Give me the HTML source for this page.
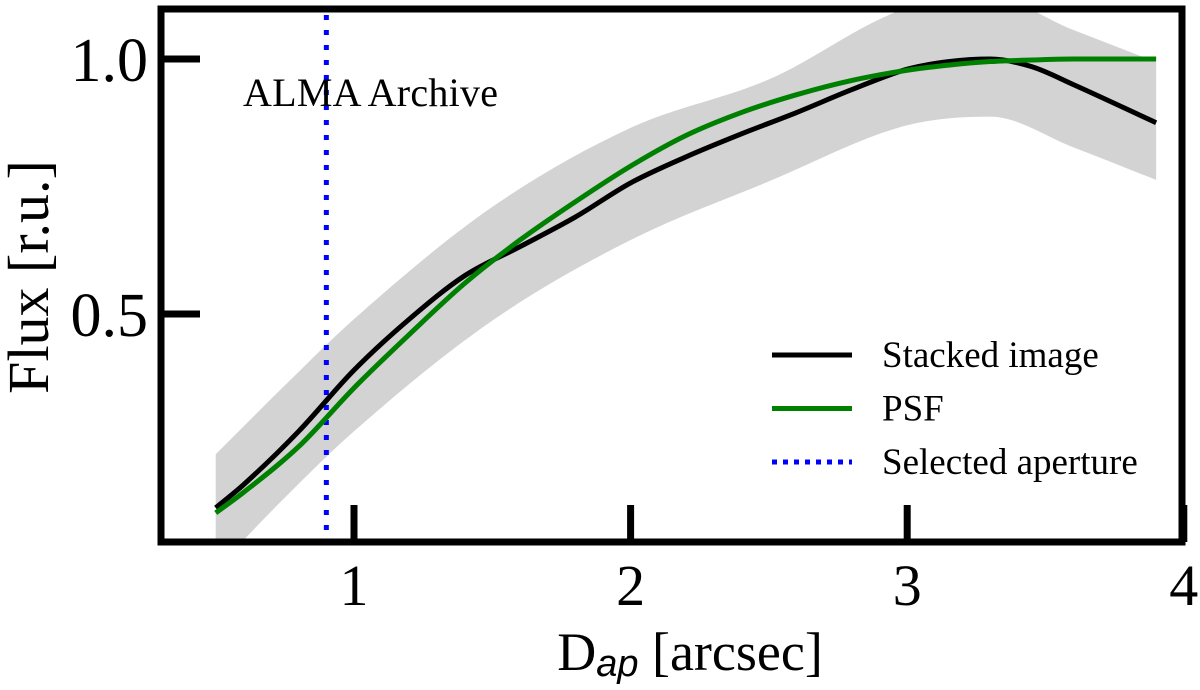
<!DOCTYPE html>
<html><head><meta charset="utf-8"><style>
body{margin:0;background:#fff;}
svg{display:block;font-family:"Liberation Serif",serif;}
</style></head><body>
<svg id="chart" width="1200" height="690">
<defs><clipPath id="clip"><rect x="161" y="9" width="1021" height="533"/></clipPath></defs>
<g id="plot" clip-path="url(#clip)"></g>
<g id="axes"></g>
</svg>
<script>
const xs=[0.5,0.6,0.8,1.0,1.2,1.4,1.6,1.8,2.0,2.2,2.4,2.6,2.8,3.0,3.15,3.3,3.45,3.6,3.9];
const stacked=[0.12,0.165,0.27,0.39,0.49,0.575,0.632,0.69,0.757,0.808,0.853,0.895,0.94,0.98,0.995,1.0,0.985,0.95,0.875];
const psf=[0.11,0.15,0.24,0.355,0.46,0.56,0.645,0.72,0.79,0.85,0.895,0.93,0.958,0.978,0.988,0.995,0.998,1.0,1.0];
const bandX=[0.5,0.75,1.0,1.5,2.0,2.5,3.0,3.3,3.6,3.9];
const bandHi=[0.225,0.36,0.49,0.71,0.865,0.96,1.10,1.12,1.057,0.994];
const bandLo=[0.0,0.14,0.27,0.487,0.645,0.76,0.87,0.887,0.827,0.763];
const apertureX=0.9;
const xTicks=[1,2,3,4];
const yTicks=[0.5,1.0];
const yTickLabels=["0.5","1.0"];
const legendLabels=["Stacked image","PSF","Selected aperture"];

const X=v=>77.4+276.6*v;
const Y=v=>59+(1-v)*510;
const NS="http://www.w3.org/2000/svg";
function mk(tag,attrs,parent,text){const e=document.createElementNS(NS,tag);for(const k in attrs)e.setAttribute(k,attrs[k]);if(text!==undefined)e.textContent=text;parent.appendChild(e);return e;}
// monotone-x cubic (no overshoot)
function smooth(pts,start){
 const n=pts.length,m=[];
 const dl=[];for(let i=0;i<n-1;i++)dl.push((pts[i+1][1]-pts[i][1])/(pts[i+1][0]-pts[i][0]));
 for(let i=0;i<n;i++){
  if(i===0)m.push(dl[0]);else if(i===n-1)m.push(dl[n-2]);
  else m.push(dl[i-1]*dl[i]<=0?0:(dl[i-1]+dl[i])/2);
 }
 let d=(start?'M':'L')+pts[0][0]+','+pts[0][1];
 for(let i=0;i<n-1;i++){
  const h=(pts[i+1][0]-pts[i][0])/3;
  d+='C'+(pts[i][0]+h)+','+(pts[i][1]+m[i]*h)+' '+(pts[i+1][0]-h)+','+(pts[i+1][1]-m[i+1]*h)+' '+pts[i+1][0]+','+pts[i+1][1];
 }
 return d;
}
function lineD(pts){return pts.map((p,i)=>(i?'L':'M')+p[0]+','+p[1]).join('');}
const plot=document.getElementById('plot'),axes=document.getElementById('axes');
const hiPts=bandX.map((x,i)=>[X(x),Y(bandHi[i])]);
const loPts=bandX.map((x,i)=>[X(x),Y(bandLo[i])]);
let loD=smooth(loPts,true).replace(/^M/,'');
// build band: upper forward, lower backward (reverse by re-smoothing reversed points)
const loRev=loPts.slice().reverse().map(p=>[-p[0],p[1]]);
const loRevD=smooth(loRev,false).replace(/(-?\d+\.?\d*),(-?\d+\.?\d*)/g,(s,a,b)=>(-parseFloat(a))+','+b);
const band=mk('path',{d:smooth(hiPts,true)+loRevD+'Z',fill:'#d3d3d3'},plot);


const ap=mk('line',{x1:X(apertureX),x2:X(apertureX),y1:0,y2:545,stroke:'#0000ff','stroke-width':5,'stroke-dasharray':'5 10'},plot);


const l1=mk('path',{d:smooth(xs.map((x,i)=>[X(x),Y(stacked[i])]),true),fill:'none',stroke:'#000','stroke-width':5},plot);


const l2=mk('path',{d:smooth(xs.map((x,i)=>[X(x),Y(psf[i])]),true),fill:'none',stroke:'#008000','stroke-width':5},plot);


const fr=mk('rect',{x:161,y:9,width:1021,height:533,fill:'none',stroke:'#000','stroke-width':7},axes);


xTicks.forEach(t=>{
 const tk=mk('line',{x1:X(t),x2:X(t),y1:542,y2:505,stroke:'#000','stroke-width':7},axes);
 
 
 const tl=mk('text',{x:X(t),y:605,'font-size':58,'text-anchor':'middle'},axes,String(t));
 
 
});
yTicks.forEach((t,i)=>{
 const tk=mk('line',{x1:161,x2:200,y1:Y(t),y2:Y(t),stroke:'#000','stroke-width':7},axes);
 
 
 const tl=mk('text',{x:148,y:Y(t)+22,'font-size':62,'text-anchor':'end'},axes,yTickLabels[i]);
 
 
});
const alma=mk('text',{x:243,y:106,'font-size':40,textLength:255},axes,'ALMA Archive');


const yl=mk('text',{x:0,y:0,'font-size':58,'text-anchor':'middle',transform:'translate(48,277) rotate(-90)'},axes,'Flux [r.u.]');


const xl=mk('text',{x:690,y:670,'font-size':54,'text-anchor':'middle'},axes);


xl.innerHTML='D<tspan font-family="Liberation Sans, sans-serif" font-style="italic" font-size="38" dy="6">ap</tspan><tspan dy="-6"> [arcsec]</tspan>';
const styles=[{stroke:'#000'},{stroke:'#008000'},{stroke:'#0000ff','stroke-dasharray':'5 6'}];
legendLabels.forEach((lab,i)=>{
 const y=355+i*53.5;
 const g=mk('g',{},axes);
 
 
 mk('line',Object.assign({x1:772,x2:852,y1:y,y2:y,'stroke-width':5},styles[i]),g);
 mk('text',{x:882,y:y+12,'font-size':37},g,lab);
});
</script>
</body></html>
